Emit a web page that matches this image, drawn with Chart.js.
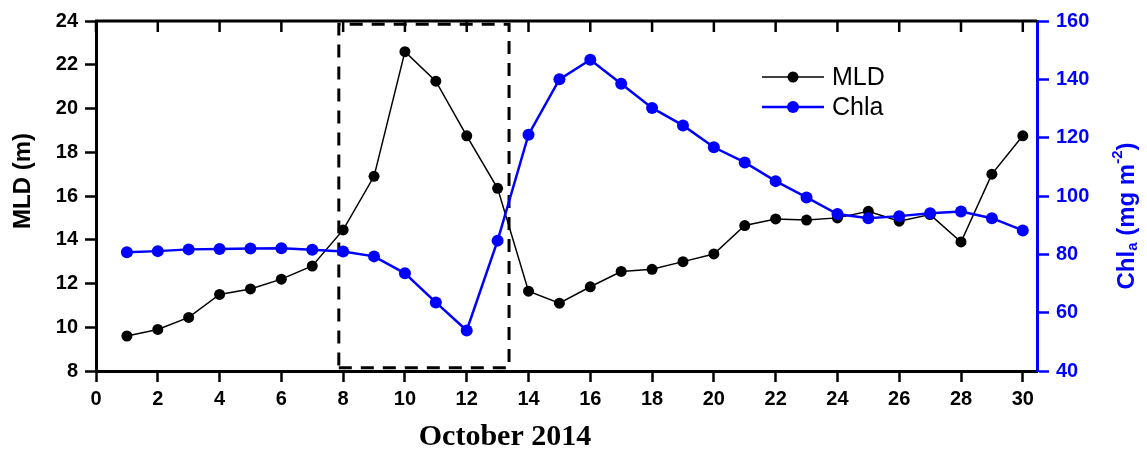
<!DOCTYPE html>
<html>
<head>
<meta charset="utf-8">
<script src="https://cdn.jsdelivr.net/npm/chart.js@4.4.1/dist/chart.umd.min.js"></script>
<style>
  html, body { margin: 0; padding: 0; background: #fff; }
  #wrap { width: 1147px; height: 450px; }
</style>
</head>
<body>
<div id="wrap"><canvas id="chart"></canvas></div>
<script>
// day of October 2014
const days = [1, 2, 3, 4, 5, 6, 7, 8, 9, 10, 11, 12, 13, 14, 15, 16, 17, 18, 19, 20, 21, 22, 23, 24, 25, 26, 27, 28, 29, 30];
// mixed layer depth (m)
const mld = [9.6, 9.9, 10.45, 11.5, 11.75, 12.2, 12.8, 14.45, 16.9, 22.6, 21.25, 18.75, 16.35, 11.65, 11.1, 11.85, 12.55, 12.65, 13.0, 13.35, 14.65, 14.95, 14.9, 15.0, 15.3, 14.85, 15.15, 13.9, 17.0, 18.75];
// chlorophyll a (mg m-2)
const chla = [80.7, 81.1, 81.7, 81.8, 82.0, 82.1, 81.6, 81.0, 79.3, 73.5, 63.5, 53.9, 84.7, 121.0, 140.0, 146.7, 138.5, 130.2, 124.2, 116.7, 111.5, 105.1, 99.5, 93.8, 92.4, 93.1, 94.1, 94.7, 92.4, 88.2];
// tick labels
const xTicks = [0, 2, 4, 6, 8, 10, 12, 14, 16, 18, 20, 22, 24, 26, 28, 30];
const mldTicks = [8, 10, 12, 14, 16, 18, 20, 22, 24];
const chlaTicks = [40, 60, 80, 100, 120, 140, 160];
// highlighted period (dashed box), in day / MLD units
const boxDays = [7.86, 13.37];
const boxMld = [8.15, 23.85];

const BLUE = '#0000ff';
const SANS = "'Liberation Sans', Arial, sans-serif";

const boxPts = [
  { x: boxDays[0], y: boxMld[0] },
  { x: boxDays[1], y: boxMld[0] },
  { x: boxDays[1], y: boxMld[1] },
  { x: boxDays[0], y: boxMld[1] },
  { x: boxDays[0], y: boxMld[0] },
];

const fixTicks = list => scale => { scale.ticks = list.map(v => ({ value: v })); };

// top frame with inward ticks, axis titles and legend
const decor = {
  id: 'decor',
  afterDraw(chart) {
    const { ctx, chartArea: a, scales } = chart;
    ctx.save();
    // top frame
    ctx.strokeStyle = '#000';
    ctx.lineWidth = 3;
    ctx.beginPath();
    ctx.moveTo(a.left - 1, a.top);
    ctx.lineTo(a.right, a.top);
    ctx.stroke();
    ctx.lineWidth = 2.5;
    xTicks.forEach(v => {
      const px = scales.x.getPixelForValue(v);
      ctx.beginPath();
      ctx.moveTo(px, a.top);
      ctx.lineTo(px, a.top + 11);
      ctx.stroke();
    });

    // left title
    ctx.fillStyle = '#000';
    ctx.font = 'bold 24px ' + SANS;
    ctx.textAlign = 'center';
    ctx.textBaseline = 'middle';
    ctx.save();
    ctx.translate(23, 181);
    ctx.rotate(-Math.PI / 2);
    ctx.fillText('MLD (m)', 0, 0);
    ctx.restore();

    // right title with sub/superscript
    const parts = [
      { t: 'Chl', s: 24, dy: 0 },
      { t: 'a', s: 15, dy: 6 },
      { t: ' (mg m', s: 24, dy: 0 },
      { t: '-2', s: 15, dy: -9 },
      { t: ')', s: 24, dy: 0 },
    ];
    let total = 0;
    parts.forEach(p => { ctx.font = 'bold ' + p.s + 'px ' + SANS; p.w = ctx.measureText(p.t).width; total += p.w; });
    ctx.save();
    ctx.translate(1127, 216);
    ctx.rotate(-Math.PI / 2);
    ctx.fillStyle = BLUE;
    ctx.textAlign = 'left';
    ctx.textBaseline = 'middle';
    let cx = -total / 2;
    parts.forEach(p => {
      ctx.font = 'bold ' + p.s + 'px ' + SANS;
      ctx.fillText(p.t, cx, p.dy);
      cx += p.w;
    });
    ctx.restore();

    // bottom title
    ctx.fillStyle = '#000';
    ctx.font = "bold 30px 'Liberation Serif', 'Times New Roman', serif";
    ctx.textAlign = 'center';
    ctx.textBaseline = 'alphabetic';
    ctx.fillText('October 2014', 505, 445);

    // legend
    const items = [
      { label: 'MLD', color: '#000', lw: 1.5, r: 5.5, y: 77 },
      { label: 'Chla', color: BLUE, lw: 2.5, r: 6, y: 107 },
    ];
    items.forEach(it => {
      ctx.strokeStyle = it.color;
      ctx.fillStyle = it.color;
      ctx.lineWidth = it.lw;
      ctx.beginPath();
      ctx.moveTo(762, it.y);
      ctx.lineTo(824, it.y);
      ctx.stroke();
      ctx.beginPath();
      ctx.arc(793, it.y, it.r, 0, Math.PI * 2);
      ctx.fill();
      ctx.fillStyle = '#000';
      ctx.font = '25px ' + SANS;
      ctx.textAlign = 'left';
      ctx.textBaseline = 'middle';
      ctx.fillText(it.label, 832, it.y + 1);
    });
    ctx.restore();
  }
};

const ctx = document.getElementById('chart').getContext('2d');
new Chart(ctx, {
  type: 'scatter',
  data: {
    datasets: [
      {
        label: 'Chla',
        data: days.map((d, i) => ({ x: d, y: chla[i] })),
        yAxisID: 'y1',
        showLine: true,
        borderColor: BLUE,
        backgroundColor: BLUE,
        borderWidth: 2.5,
        pointRadius: 6,
        pointBorderWidth: 0,
        order: 0,
      },
      {
        label: 'MLD',
        data: days.map((d, i) => ({ x: d, y: mld[i] })),
        yAxisID: 'y',
        showLine: true,
        borderColor: '#000',
        backgroundColor: '#000',
        borderWidth: 1.5,
        pointRadius: 5.5,
        pointBorderWidth: 0,
        order: 1,
      },
      {
        label: 'box',
        data: boxPts,
        yAxisID: 'y',
        showLine: true,
        borderColor: '#000',
        borderWidth: 3,
        borderDash: [13, 9],
        pointRadius: 0,
        order: 2,
      },
    ],
  },
  options: {
    responsive: true,
    maintainAspectRatio: false,
    animation: false,
    clip: false,
    layout: { padding: { top: 21, left: 0, right: 0, bottom: 0 } },
    plugins: {
      legend: { display: false },
      tooltip: { enabled: false },
    },
    scales: {
      x: {
        type: 'linear',
        min: 0,
        max: 30.46,
        afterBuildTicks: fixTicks(xTicks),
        afterFit: s => { s.height = 79; },
        ticks: { color: '#000', font: { family: SANS, size: 20, weight: 'bold' }, padding: 5, maxRotation: 0 },
        grid: { drawOnChartArea: false, tickLength: 11, tickWidth: 2.5, tickColor: '#000' },
        border: { color: '#000', width: 3 },
      },
      y: {
        position: 'left',
        min: 8,
        max: 24,
        afterBuildTicks: fixTicks(mldTicks),
        afterFit: s => { s.width = 96; },
        ticks: { color: '#000', font: { family: SANS, size: 20, weight: 'bold' }, padding: 7 },
        grid: { drawOnChartArea: false, tickLength: 11, tickWidth: 2.5, tickColor: '#000' },
        border: { color: '#000', width: 3 },
      },
      y1: {
        position: 'right',
        min: 40,
        max: 160,
        afterBuildTicks: fixTicks(chlaTicks),
        afterFit: s => { s.width = 110; },
        ticks: { color: BLUE, font: { family: SANS, size: 20, weight: 'bold' }, padding: 7 },
        grid: { drawOnChartArea: false, tickLength: 12, tickWidth: 2.5, tickColor: BLUE },
        border: { color: BLUE, width: 3 },
      },
    },
  },
  plugins: [decor],
});
</script>
</body>
</html>
